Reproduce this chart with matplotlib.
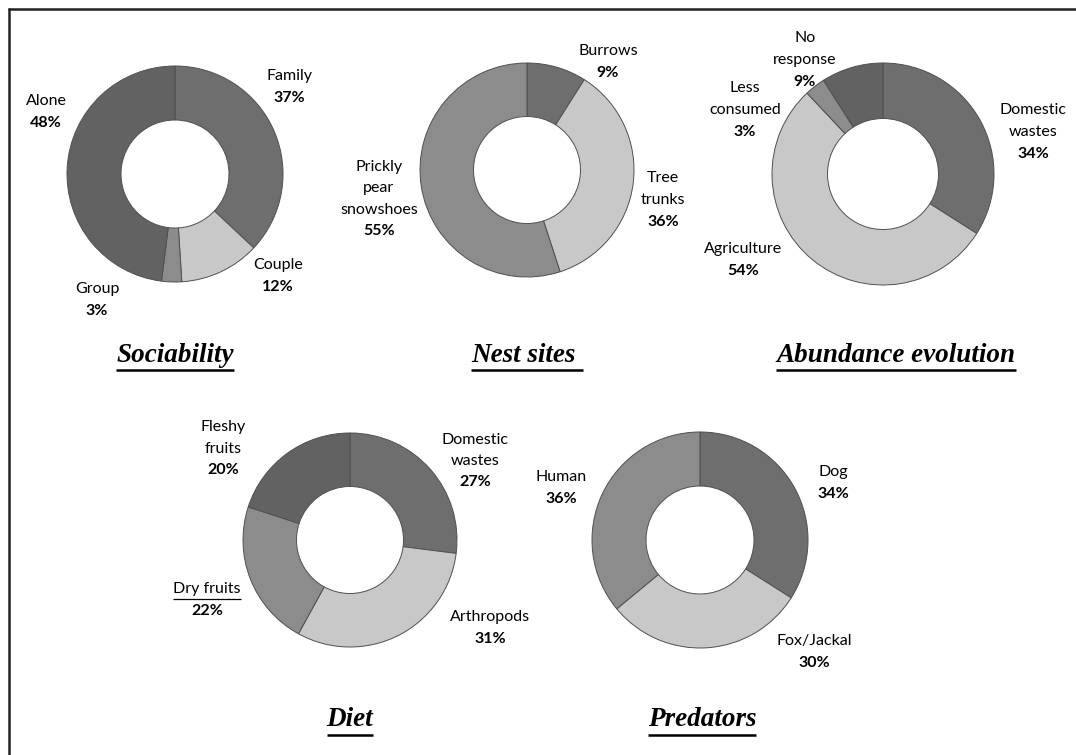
import matplotlib
matplotlib.use("Agg")
import matplotlib.pyplot as plt

# ---------------- data ----------------
soc_labels = ["Family", "Couple", "Group", "Alone"]
soc_values = [37, 12, 3, 48]

nest_labels = ["Burrows", "Tree\ntrunks", "Prickly\npear\nsnowshoes"]
nest_values = [9, 36, 55]

abund_labels = ["Domestic\nwastes", "Agriculture", "Less\nconsumed", "No\nresponse"]
abund_values = [34, 54, 3, 9]

diet_labels = ["Domestic\nwastes", "Arthropods", "Dry fruits", "Fleshy\nfruits"]
diet_values = [27, 31, 22, 20]

pred_labels = ["Dog", "Fox/Jackal", "Human"]
pred_values = [34, 30, 36]

titles = ["Sociability", "Nest sites ", "Abundance evolution", "Diet", "Predators"]

# ---------------- layout (pixels, y from top) ----------------
W, H = 1076, 755
palette = ["#6e6e6e", "#c8c8c8", "#8c8c8c", "#626262"]

charts = [
    dict(labels=soc_labels, values=soc_values, center=(175, 174), r=108,
         label_pos=[(289, 87), (278, 276), (97, 300), (46, 112)],
         title_pos=(175, 355)),
    dict(labels=nest_labels, values=nest_values, center=(527, 170), r=107,
         label_pos=[(608, 62), (663, 200), (379, 199)],
         title_pos=(527, 355)),
    dict(labels=abund_labels, values=abund_values, center=(883, 174), r=111,
         label_pos=[(1033, 132), (743, 260), (745, 110), (805, 60)],
         title_pos=(896, 355)),
    dict(labels=diet_labels, values=diet_values, center=(350, 540), r=107,
         label_pos=[(475, 461), (490, 628), (207, 600), (223, 449)],
         title_pos=(350, 720)),
    dict(labels=pred_labels, values=pred_values, center=(700, 540), r=108,
         label_pos=[(833, 483), (814, 652), (561, 488)],
         title_pos=(702, 720)),
]

underlined_labels = {"Dry fruits"}

fig = plt.figure(figsize=(W / 100, H / 100), dpi=100)
ax = fig.add_axes([0, 0, 1, 1])
ax.set_xlim(0, W)
ax.set_ylim(0, H)
ax.set_autoscale_on(False)


def Y(y):
    return H - y


label_font = "Lato"
label_size = 11.5
line_h = 21.5

underline_texts = []   # (text, y_pixel_of_line, lw)

for ch, title in zip(charts, titles):
    cx, cy = ch["center"]
    r = ch["r"]
    cols = palette[:len(ch["values"])]
    ax.pie(ch["values"], colors=cols, startangle=90, counterclock=False,
           center=(cx, Y(cy)), radius=r, frame=True,
           wedgeprops=dict(width=r * 0.5, edgecolor="#505050", linewidth=0.7))

    for lab, val, (lx, ly) in zip(ch["labels"], ch["values"], ch["label_pos"]):
        lines = lab.split("\n")
        n = len(lines) + 1
        y0 = ly - (n - 1) * line_h / 2
        for i, ln in enumerate(lines):
            t = ax.text(lx, Y(y0 + i * line_h), ln, ha="center", va="center",
                        fontsize=label_size, family=label_font, color="black")
            if lab in underlined_labels:
                underline_texts.append((t, y0 + i * line_h + 10, 0.9))
        ax.text(lx, Y(y0 + (n - 1) * line_h), f"{val}%", ha="center", va="center",
                fontsize=label_size, family=label_font, fontweight="bold", color="black")

    tx, ty = ch["title_pos"]
    t = ax.text(tx, Y(ty), title, ha="center", va="center", fontsize=19.5,
                family="Liberation Serif", style="italic", fontweight="bold",
                color="black")
    underline_texts.append((t, ty + 15, 1.8))

# frame lines (top and left)
ax.plot([8, W], [Y(8.5), Y(8.5)], color="#222222", lw=1.8, solid_capstyle="butt")
ax.plot([8.5, 8.5], [Y(8), 0], color="#222222", lw=1.8, solid_capstyle="butt")

ax.set_xlim(0, W)
ax.set_ylim(0, H)
ax.set_aspect("equal")
ax.axis("off")

fig.canvas.draw()
renderer = fig.canvas.get_renderer()
inv = ax.transData.inverted()
for t, yl, lw in underline_texts:
    bb = t.get_window_extent(renderer=renderer)
    x0 = inv.transform((bb.x0, 0))[0]
    x1 = inv.transform((bb.x1, 0))[0]
    ax.plot([x0, x1], [Y(yl), Y(yl)], color="black", lw=lw, solid_capstyle="butt")

ax.set_xlim(0, W)
ax.set_ylim(0, H)
fig.savefig("out.png", dpi=100, facecolor="white")
